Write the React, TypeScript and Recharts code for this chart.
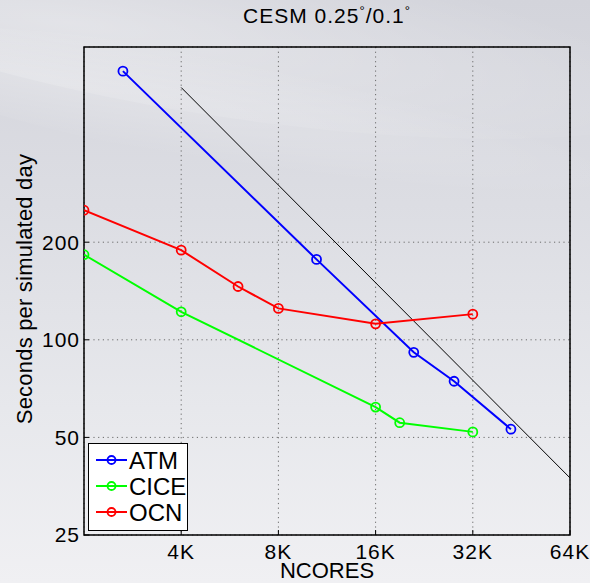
import React from "react";
import { LineChart, Line, XAxis, YAxis, CartesianGrid, Legend, ReferenceArea } from "recharts";

// x in thousands of cores, y in seconds per simulated day
const xTicks = [4, 8, 16, 32, 64];
const yTicks = [25, 50, 100, 200];

const atm = [
  { x: 2.64, y: 674 },
  { x: 10.5, y: 177 },
  { x: 21, y: 91.5 },
  { x: 28, y: 74.5 },
  { x: 42, y: 53 },
];
const cice = [
  { x: 2, y: 183 },
  { x: 4, y: 122 },
  { x: 16, y: 62 },
  { x: 19, y: 55.5 },
  { x: 32, y: 52 },
];
const ocn = [
  { x: 2, y: 251 },
  { x: 4, y: 189 },
  { x: 6, y: 146 },
  { x: 8, y: 125 },
  { x: 16, y: 112 },
  { x: 32, y: 120 },
];
// perfect scaling reference
const ideal = [
  { x: 4, y: 600 },
  { x: 64, y: 37.5 },
];

const SERIES = [
  { name: "ATM", color: "#0000ff", data: atm },
  { name: "CICE", color: "#00ff00", data: cice },
  { name: "OCN", color: "#ff0000", data: ocn },
];

const FONT = '"Liberation Sans", Arial, Helvetica, sans-serif';
const tickStyle = { fill: "#000", fontSize: 21, fontFamily: FONT, letterSpacing: 1 };

function LegendBox() {
  return (
    <div
      style={{
        border: "1px solid #000",
        background: "#fff",
        width: 98,
        height: 82,
        boxSizing: "content-box",
        fontFamily: FONT,
        fontSize: 24,
        paddingTop: 3,
        paddingBottom: 1,
      }}
    >
      {SERIES.map((s) => (
        <div key={s.name} style={{ display: "flex", alignItems: "center", height: 26 }}>
          <svg width={42} height={14} style={{ marginLeft: 6 }}>
            <line x1={1} x2={32} y1={7} y2={7} stroke={s.color} strokeWidth={2} />
            <circle cx={16.5} cy={7} r={4} stroke={s.color} strokeWidth={1.8} fill="none" />
          </svg>
          <span style={{ marginLeft: -8, lineHeight: "25px", color: "#000" }}>{s.name}</span>
        </div>
      ))}
    </div>
  );
}

export default function App() {
  return (
    <div
      style={{
        position: "absolute",
        left: 0,
        top: 0,
        width: 590,
        height: 583,
        overflow: "hidden",
        background: "linear-gradient(180deg, #d3d4db 0%, #dcdde3 35%, #e7e8ec 70%, #f0f0f3 100%)",
        fontFamily: FONT,
      }}
    >
      <div
        style={{
          position: "absolute",
          left: -200,
          top: -60,
          width: 900,
          height: 180,
          borderRadius: "50%",
          background: "radial-gradient(ellipse at 30% 60%, rgba(255,255,255,0.35), rgba(255,255,255,0) 70%)",
          transform: "rotate(8deg)",
        }}
      />
      <div
        style={{
          position: "absolute",
          left: -150,
          top: 60,
          width: 800,
          height: 110,
          borderRadius: "50%",
          background: "radial-gradient(ellipse at 25% 50%, rgba(255,255,255,0.25), rgba(255,255,255,0) 70%)",
          transform: "rotate(10deg)",
        }}
      />
      <div
        style={{
          position: "absolute",
          left: 0,
          right: 0,
          top: 3,
          textAlign: "center",
          paddingLeft: 64,
          fontSize: 21,
          letterSpacing: 1,
          color: "#000",
        }}
      >
        CESM 0.25<sup style={{ fontSize: 13 }}>°</sup>/0.1<sup style={{ fontSize: 13 }}>°</sup>
      </div>
      <div
        style={{
          position: "absolute",
          left: 25,
          top: 289,
          fontSize: 22,
          letterSpacing: 0.2,
          color: "#000",
          whiteSpace: "nowrap",
          transform: "translate(-50%, -50%) rotate(-90deg)",
        }}
      >
        Seconds per simulated day
      </div>
      <LineChart
        width={590}
        height={583}
        margin={{ top: 47, right: 20, left: 0, bottom: 0 }}
        style={{ position: "absolute", left: 0, top: 0 }}
      >
        <CartesianGrid stroke="#6a6a6a" strokeDasharray="1.2 3.5" strokeWidth={1} />
        <XAxis
          type="number"
          dataKey="x"
          scale="log"
          domain={[2, 64]}
          ticks={xTicks}
          allowDataOverflow
          height={48}
          tickSize={-5}
          tickMargin={14}
          tickLine={{ stroke: "#000" }}
          axisLine={false}
          tickFormatter={(v) => `${v}K`}
          tick={tickStyle}
          label={{ value: "NCORES", position: "insideBottom", offset: 5, fill: "#000", fontSize: 22, fontFamily: FONT }}
        />
        <XAxis
          xAxisId="top"
          orientation="top"
          type="number"
          scale="log"
          domain={[2, 64]}
          ticks={xTicks}
          allowDataOverflow
          height={0}
          tickSize={-5}
          tickLine={{ stroke: "#000" }}
          axisLine={false}
          tick={false}
        />
        <YAxis
          type="number"
          scale="log"
          domain={[25, 800]}
          ticks={yTicks}
          allowDataOverflow
          width={84}
          tickSize={-5}
          tickMargin={9}
          tickLine={{ stroke: "#000" }}
          axisLine={false}
          tick={tickStyle}
        />
        <YAxis
          yAxisId="right"
          orientation="right"
          type="number"
          scale="log"
          domain={[25, 800]}
          ticks={yTicks}
          allowDataOverflow
          width={0}
          tickSize={-5}
          tickLine={{ stroke: "#000" }}
          axisLine={false}
          tick={false}
        />
        <ReferenceArea x1={2} x2={64} y1={25} y2={800} fill="none" stroke="#000" strokeWidth={1.5} ifOverflow="visible" />
        <Line
          data={ideal}
          dataKey="y"
          stroke="#000"
          strokeWidth={1}
          dot={false}
          isAnimationActive={false}
          legendType="none"
        />
        {SERIES.map((s) => (
          <Line
            key={s.name}
            name={s.name}
            data={s.data}
            dataKey="y"
            stroke={s.color}
            strokeWidth={2}
            dot={{ r: 4.5, stroke: s.color, strokeWidth: 1.8, fill: "none" }}
            isAnimationActive={false}
          />
        ))}
        <Legend
          layout="vertical"
          align="center"
          verticalAlign="middle"
          wrapperStyle={{ left: 88, top: 443, width: 100, height: 86 }}
          content={() => <LegendBox />}
        />
      </LineChart>
    </div>
  );
}
